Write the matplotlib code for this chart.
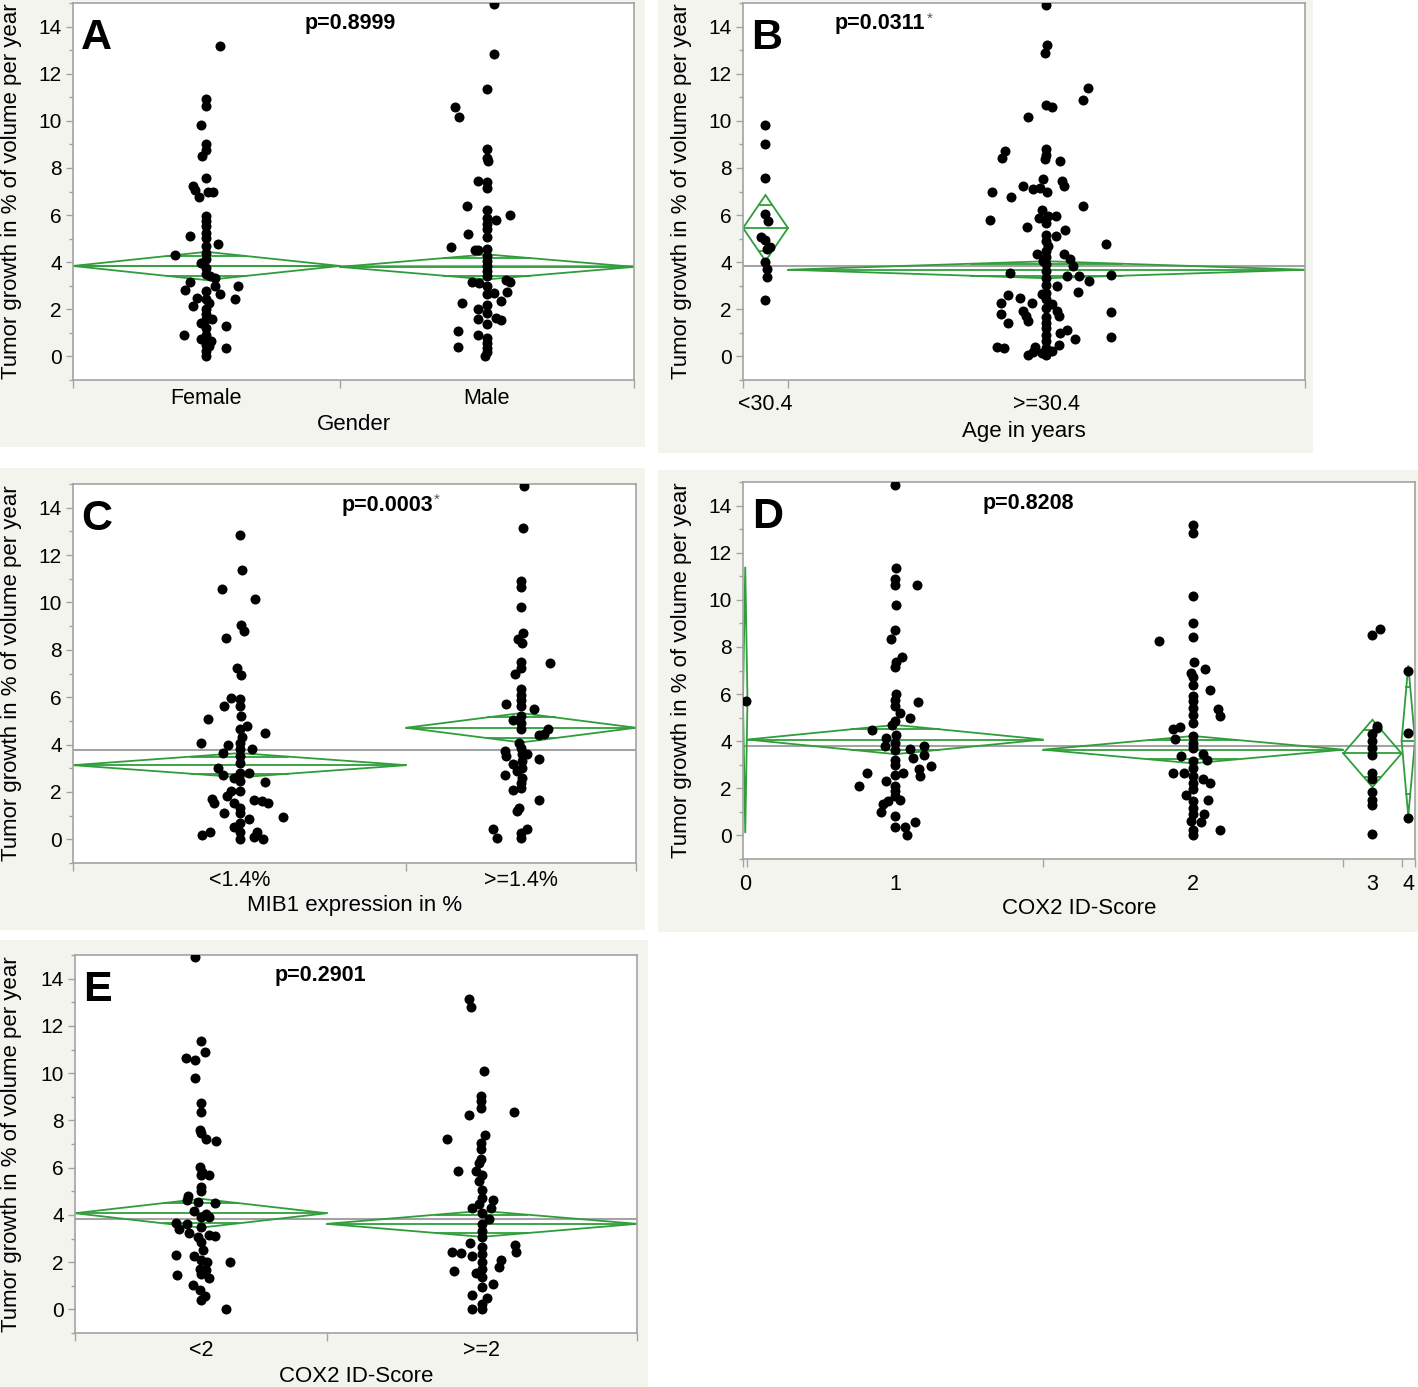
import numpy as np
import matplotlib
matplotlib.use('Agg')
import matplotlib.pyplot as plt
from matplotlib.patches import Rectangle, Polygon

plt.rcParams['font.family'] = ['Liberation Sans', 'DejaVu Sans']

W, H = 1418, 1387
GREEN = '#2f9e3a'
GREY = '#a3a3a3'
BEIGE = '#f4f4ef'
YLABEL = 'Tumor growth in % of volume per year'

# ---------------- data ----------------
# each point: (growth value, horizontal jitter in subject units)

# A: gender
a_groups = ['Female', 'Male']
a_n = [59, 65]
a_mean = [3.84, 3.80]
a_ci = [0.60, 0.53]
a_grand = 3.82
a_female = [(13.18, 3.0), (10.92, 0), (10.64, 0), (9.83, -1.1), (9.02, 0), (8.77, 0), (8.52, -0.9),
            (7.57, 0), (7.22, -3.0), (7.05, -2.6), (6.77, -1.6), (6.96, 0.4), (6.97, 1.5), (5.95, 0),
            (5.73, 0), (5.52, 0), (5.24, 0), (5.10, -3.7), (5.03, 0), (4.79, 2.6), (4.68, 0), (4.40, 0),
            (4.32, -7.0), (4.12, 0), (3.98, -1.2), (3.77, 0), (3.49, 0), (3.42, 0.7), (3.35, 1.8),
            (3.15, -3.7), (2.98, 1.8), (3.00, 7.0), (2.80, -4.8), (2.77, 0), (2.63, 3.0), (2.49, -2.0),
            (2.45, 6.3), (2.42, 0), (2.28, 0.6), (2.13, -3.0), (2.00, 0), (1.80, 0), (1.60, 0), (1.60, 1.3),
            (1.40, -1.2), (1.20, 0), (1.30, 4.4), (0.93, -5.0), (0.93, 0), (0.75, -1.2), (0.64, 1.1),
            (0.50, 0), (0.37, 4.4), (0.44, 0.6), (0.22, -0.2), (0.03, 0)]
a_male = [(14.96, 1.5), (12.84, 1.5), (11.36, 0), (10.58, -7.0), (10.16, -6.1), (8.80, 0), (8.42, 0),
          (8.28, 0.3), (7.43, -2.0), (7.39, 0), (7.14, 0), (6.37, -4.4), (6.20, 0), (6.02, 5.0), (5.88, 0),
          (5.78, 1.9), (5.60, 0), (5.39, 0), (5.20, -4.2), (5.07, 0), (4.65, -8.0), (4.53, -2.7),
          (4.50, -1.9), (4.56, 0), (4.25, 0), (4.04, 0), (3.83, 0), (3.62, 0), (3.40, 0), (3.15, -3.3),
          (3.12, -1.7), (3.26, 4.1), (3.16, 5.2), (2.98, 0), (2.70, 1.5), (2.72, 4.4), (2.63, 0),
          (2.35, 3.0), (2.27, -5.6), (2.20, 0), (2.02, -1.9), (1.85, 0), (1.64, 1.9), (1.60, -1.9),
          (1.54, 3.2), (1.36, 0), (1.08, -6.3), (0.90, -1.9), (0.80, 0), (0.58, 0), (0.41, -6.3),
          (0.37, 0), (0.19, 0), (0.02, -0.4)]

# B: age
b_groups = ['<30.4', '>=30.4']
b_n = [10, 115]
b_mean = [5.45, 3.68]
b_ci = [1.40, 0.36]
b_grand = 3.82
b_young = [(9.83, 0), (9.02, 0), (7.57, 0), (6.06, 0), (5.75, 0.6), (5.09, -0.9), (4.95, 0), (4.66, 1.0),
           (4.57, 0.3), (4.00, 0), (3.72, 0.4), (3.39, 0.3), (2.39, 0)]
b_old = [(14.92, 0), (13.22, 0.2), (12.86, -0.3), (11.39, 9.3), (10.89, 8.2), (10.68, 0), (10.58, 1.2),
         (10.18, -4.2), (8.81, 0), (8.56, 0), (8.39, -0.3), (8.74, -9.2), (8.42, -9.8), (8.30, 3.0),
         (7.46, 3.4), (7.25, 4.0), (7.53, -0.7), (7.25, -5.2), (7.09, -2.9), (7.13, -1.5), (7.00, 0.2),
         (6.96, -12.1), (6.76, -7.9), (6.37, 8.1), (6.20, -1.0), (5.88, -1.6), (5.95, 0.4), (5.95, 2.1),
         (5.80, -12.5), (5.66, 0), (5.48, -4.4), (5.38, 4.2), (5.17, 0), (5.10, 2.1), (4.88, 0),
         (4.79, 13.2), (4.68, 0.4), (4.47, 0), (4.34, -2.2), (4.34, 3.9), (4.20, 0), (4.13, 5.2),
         (4.06, -0.8), (3.92, 0), (3.85, 5.8), (3.62, 0), (3.52, -8.1), (3.43, 4.5), (3.40, 7.2),
         (3.45, 14.4), (3.33, 0), (3.19, 9.5), (3.05, 0), (2.98, 2.4), (2.70, 0), (2.73, 7.1),
         (2.64, -1.1), (2.61, -8.6), (2.49, -6.0), (2.42, 0), (2.28, -3.2), (2.27, -10.1), (2.21, 1.3),
         (2.07, 0), (1.93, -5.3), (1.93, 2.3), (1.80, -10.1), (1.87, 14.4), (1.72, -4.5), (1.67, 0),
         (1.72, 2.8), (1.42, -8.6), (1.50, -4.2), (1.42, 0), (1.21, 0), (1.14, 4.6), (1.00, 3.1),
         (0.75, 6.4), (0.93, 0), (0.83, 14.4), (0.50, 2.8), (0.64, 0), (0.41, -11.0), (0.37, -9.4),
         (0.41, -2.5), (0.37, 0), (0.22, 1.3), (0.19, -3.0), (0.05, -4.2), (0.05, 0), (0.15, -0.9)]

# C: MIB1 expression
c_groups = ['<1.4%', '>=1.4%']
c_n = [74, 51]
c_mean = [3.13, 4.71]
c_ci = [0.51, 0.62]
c_grand = 3.77
c_low = [(12.83, 0), (11.36, 0.6), (10.58, -4.0), (10.15, 3.4), (9.03, 0.2), (8.79, 1.0), (8.51, -3.1),
         (7.24, -0.5), (6.92, 0.4), (5.98, -1.9), (5.91, 0), (5.62, -3.5), (5.62, 0), (5.20, 0.2),
         (5.09, -7.0), (4.78, 1.7), (4.64, 0), (4.50, 5.7), (4.33, 0.6), (4.05, -8.5), (3.98, -2.5),
         (4.07, 0), (3.80, 0), (3.66, -3.8), (3.80, 2.8), (3.52, 0), (3.24, 0), (3.02, -4.9), (2.81, 2.0),
         (2.70, -3.8), (2.81, 0), (2.60, -1.3), (2.46, 0), (2.42, 5.7), (2.04, -2.0), (2.04, 0),
         (1.83, -2.7), (1.69, -6.2), (1.52, -5.7), (1.66, 3.2), (1.62, 5.0), (1.55, 6.4), (1.55, -1.3),
         (1.34, 0), (1.10, -3.5), (1.12, 0), (0.84, 2.0), (0.94, 9.6), (0.53, -1.3), (0.32, 0),
         (0.29, -6.6), (0.20, -8.3), (0.32, 3.9), (0.10, 3.2), (0.00, 5.2), (0.00, 0), (0.67, 0)]
c_high = [(14.91, 0.6), (13.15, 0.4), (10.90, 0), (10.66, 0), (9.82, 0), (8.72, 0.4), (8.44, -0.7),
          (8.30, 0.2), (7.43, 6.3), (7.50, 0), (7.22, 0), (7.00, -1.3), (6.35, 0), (6.11, 0), (5.88, 0),
          (5.70, -3.3), (5.63, 0), (5.49, 2.8), (5.20, 0), (5.04, -1.8), (4.92, 0), (4.64, 0),
          (4.67, 6.0), (4.39, 3.9), (4.43, 5.0), (4.08, -0.5), (3.87, 0), (3.73, -3.5), (3.59, 0.2),
          (3.52, -3.3), (3.59, 1.3), (3.31, 0.2), (3.38, 4.0), (3.17, -1.8), (3.03, 0.2), (2.88, -0.9),
          (2.71, -3.5), (2.60, 0.2), (2.39, 0), (2.08, -1.8), (2.18, 0), (1.66, 4.0), (1.34, -0.4),
          (1.20, -0.9), (0.45, -6.2), (0.07, -5.4), (0.45, 1.3), (0.25, 0), (0.07, 0)]

# D: COX2 ID-score
d_groups = ['0', '1', '2', '3', '4']
d_n = [1, 66, 67, 13, 3]
d_mean = [5.75, 4.07, 3.64, 3.48, 4.02]
d_ci = [5.65, 0.62, 0.58, 1.43, 3.20]
d_grand = 3.81
d_0 = [(5.72, 0.2)]
d_1 = [(14.88, 0), (11.36, 0.2), (10.90, 0), (10.64, 0), (10.64, 4.8), (9.80, 0.2), (8.71, 0),
       (8.33, -0.9), (7.56, 1.6), (7.38, 0.1), (7.14, 0), (6.00, 0.2), (5.75, 0), (5.50, 0),
       (5.68, 5.0), (5.19, 1.0), (4.98, 3.2), (4.84, 0), (4.48, -5.3), (4.70, -0.7), (4.27, 0.2),
       (4.13, -2.0), (3.92, 0), (3.78, -2.2), (3.78, 6.5), (3.64, 0), (3.67, 3.2), (3.43, 6.5),
       (3.29, 4.0), (3.22, 0), (3.01, 0), (2.96, 7.9), (2.82, 5.2), (2.65, 1.7), (2.65, -6.4),
       (2.58, 0), (2.54, 5.4), (2.30, -2.0), (2.10, -8.0), (2.09, 0), (1.88, 0), (1.67, 0),
       (1.46, -1.6), (1.50, 1.0), (1.32, -2.7), (1.00, -3.2), (0.84, 0), (0.56, 4.4), (0.37, 0),
       (0.37, 2.2), (0.01, 2.6)]
d_2 = [(13.19, 0), (12.83, 0), (10.15, 0), (9.00, 0), (8.43, 0), (8.26, -7.6), (7.37, 0.2), (7.05, 2.7),
       (6.91, -0.4), (6.74, 0), (6.39, 0), (6.18, 3.7), (5.93, 0), (5.69, 0), (5.41, 0), (5.37, 5.6),
       (5.09, 6.0), (5.13, 0), (4.78, 0), (4.51, -4.6), (4.62, -2.9), (4.10, -4.1), (4.21, 0),
       (3.93, 0), (3.72, 0), (3.37, -2.7), (3.44, 2.1), (3.20, 3.0), (3.16, 0), (2.88, 0),
       (2.65, -4.6), (2.65, -2.0), (2.51, 0), (2.40, 2.1), (2.23, 3.8), (2.23, 0), (1.95, 0),
       (1.70, -1.6), (1.52, 3.3), (1.46, 0), (1.18, 0), (0.92, 2.4), (0.90, 0), (0.56, 1.8),
       (0.60, -0.4), (0.22, 6.0), (0.25, 0), (0.00, 0)]
d_3 = [(8.50, 0), (8.78, 1.7), (4.65, 1.1), (4.54, 1.0), (4.30, 0), (4.00, 0), (3.70, 0), (3.40, 0),
       (2.67, 0), (2.40, 0), (1.83, 0), (1.50, 0), (1.30, 0), (0.04, 0)]
d_4 = [(6.98, 0), (4.34, 0), (0.72, 0)]

# E: COX2 ID-score dichotomised
e_groups = ['<2', '>=2']
e_n = [56, 69]
e_mean = [4.07, 3.62]
e_ci = [0.61, 0.55]
e_grand = 3.82
e_low = [(14.90, -1.4), (11.35, 0), (10.64, -3.4), (10.57, -1.4), (10.88, 1.0), (9.80, -1.2), (8.73, 0),
         (8.35, 0), (7.58, -0.3), (7.46, 0), (7.22, 1.2), (7.12, 3.4), (6.02, -0.2), (5.81, 0.3),
         (5.67, 1.7), (5.67, 0), (5.17, 0), (5.03, 0), (4.79, -2.9), (4.65, -3.2), (4.50, 3.1),
         (4.54, -0.6), (4.16, -1.6), (4.02, 1.2), (3.91, 0), (3.91, 1.7), (3.65, -5.6), (3.62, -3.0),
         (3.40, -4.8), (3.48, 0), (3.23, -2.6), (3.13, 1.7), (3.12, 3.2), (3.06, -0.6), (2.85, 0),
         (2.52, 0.5), (2.32, -5.5), (2.28, -1.6), (2.07, 0), (2.00, 1.4), (2.00, 6.5), (1.72, -0.2),
         (1.65, 1.2), (1.44, -5.3), (1.51, 0), (1.34, 1.7), (1.02, -1.8), (0.83, -0.2), (0.55, 0.9),
         (0.38, 0), (0.03, 5.6)]
e_high = [(13.14, -2.9), (12.78, -2.4), (10.10, 0.4), (9.02, -0.3), (8.80, -0.3), (8.52, -0.3),
          (8.24, -2.9), (8.35, 7.1), (7.40, 0.6), (7.20, -7.7), (7.05, -0.3), (6.77, -0.3), (6.35, -0.3),
          (6.20, -0.7), (5.85, -5.4), (5.85, -1.2), (5.70, 0), (5.43, -0.7), (5.07, 0), (4.72, 0),
          (4.65, 2.5), (4.44, -0.7), (4.30, -2.1), (4.30, 2.0), (4.10, 0), (3.81, 1.6), (3.60, 0),
          (3.33, 0), (3.05, 0), (2.80, -2.6), (2.65, 0), (2.74, 7.4), (2.42, 7.6), (2.42, -6.7),
          (2.38, -4.7), (2.35, 0), (2.24, -2.1), (2.07, 4.3), (2.00, 0), (1.79, 3.9), (1.72, 0),
          (1.62, -6.1), (1.54, -1.2), (1.37, 0), (1.09, 2.5), (0.95, 0), (0.59, -2.1), (0.49, 1.1),
          (0.24, 0), (0.03, -2.1), (0.03, 0)]

# ---------------- layout in pixels ----------------
# bg = beige panel box (x0, y0, x1, y1); ax = plot frame (left, top, right, bottom)
panels = [
    dict(letter='A', p='p=0.8999', star=False, xlabel='Gender',
         groups=a_groups, n=a_n, mean=a_mean, ci=a_ci, grand=a_grand, pts=[a_female, a_male],
         bg=(0, 0, 645, 447), ax=(73, 3, 634, 380), ptxt=350, ylab=12, tick_dy=18, lab_dy=44),
    dict(letter='B', p='p=0.0311', star=True, xlabel='Age in years',
         groups=b_groups, n=b_n, mean=b_mean, ci=b_ci, grand=b_grand, pts=[b_young, b_old],
         bg=(658, 0, 1313, 453), ax=(743, 3, 1305, 380), ptxt=880, ylab=681, tick_dy=25, lab_dy=51),
    dict(letter='C', p='p=0.0003', star=True, xlabel='MIB1 expression in %',
         groups=c_groups, n=c_n, mean=c_mean, ci=c_ci, grand=c_grand, pts=[c_low, c_high],
         bg=(0, 468, 645, 930), ax=(73, 484, 636, 863), ptxt=387, ylab=12, tick_dy=18, lab_dy=43),
    dict(letter='D', p='p=0.8208', star=False, xlabel='COX2 ID-Score',
         groups=d_groups, n=d_n, mean=d_mean, ci=d_ci, grand=d_grand, pts=[d_0, d_1, d_2, d_3, d_4],
         bg=(658, 470, 1418, 932), ax=(743, 482, 1415, 859), ptxt=1028, ylab=681, tick_dy=25, lab_dy=50),
    dict(letter='E', p='p=0.2901', star=False, xlabel='COX2 ID-Score',
         groups=e_groups, n=e_n, mean=e_mean, ci=e_ci, grand=e_grand, pts=[e_low, e_high],
         bg=(0, 940, 648, 1387), ax=(75, 955, 637, 1333), ptxt=320, ylab=12, tick_dy=18, lab_dy=43),
]

fig = plt.figure(figsize=(W / 100, H / 100), dpi=100, facecolor='white')


def draw_panel(P):
    x0, y0, x1, y1 = P['bg']
    fig.add_artist(Rectangle((x0 / W, 1 - y1 / H), (x1 - x0) / W, (y1 - y0) / H,
                             transform=fig.transFigure, facecolor=BEIGE, edgecolor='none', zorder=-5))
    l, t, r, b = P['ax']
    aw, ah = r - l, b - t
    ax = fig.add_axes([l / W, 1 - b / H, aw / W, ah / H])
    ax.set_facecolor('white')

    n = np.array(P['n'], dtype=float)
    edges = np.concatenate([[0], np.cumsum(n)])
    centers = edges[:-1] + n / 2
    total = edges[-1]

    ax.axhline(P['grand'], color=GREY, lw=1.5, zorder=1)
    for i in range(len(n)):
        L, R, c = edges[i], edges[i + 1], centers[i]
        m, d = P['mean'][i], P['ci'][i]
        ax.add_patch(Polygon([(L, m), (c, m + d), (R, m), (c, m - d)], closed=True,
                             fill=False, edgecolor=GREEN, lw=1.3, zorder=2))
        ax.plot([L, R], [m, m], color=GREEN, lw=1.3, zorder=2)
        hw = (R - L) / 2 * (1 - 1 / np.sqrt(2))
        for s in (1, -1):
            yy = m + s * d / np.sqrt(2)
            ax.plot([c - hw, c + hw], [yy, yy], color=GREEN, lw=1.3, zorder=2)
        vals = np.array([p[0] for p in P['pts'][i]])
        dx = np.array([p[1] for p in P['pts'][i]])
        ax.scatter(c + dx, vals, s=52, color='black', linewidths=0, zorder=3)

    ax.set_xlim(0, total)
    ax.set_ylim(-1, 15)

    for sp in ax.spines.values():
        sp.set_color(GREY)
        sp.set_linewidth(1.2)

    ax.set_yticks(np.arange(0, 15, 2))
    ax.set_yticks(np.arange(-1, 16, 2), minor=True)
    ax.tick_params(axis='y', which='major', length=5, width=1, color=GREY, labelsize=15, pad=3)
    ax.tick_params(axis='y', which='minor', length=3, width=1, color=GREY)

    ax.set_xticks(edges)
    ax.set_xticklabels([])
    ax.set_xticks(centers, minor=True)
    ax.set_xticklabels(P['groups'], minor=True)
    ax.tick_params(axis='x', which='major', length=6, width=1, color=GREY)
    ax.tick_params(axis='x', which='minor', length=0, labelsize=15.5, pad=0)
    for lbl in ax.get_xticklabels(minor=True):
        lbl.set_va('center')
        lbl.set_transform(ax.get_xaxis_transform() +
                          matplotlib.transforms.ScaledTranslation(0, -P['tick_dy'] / 100, fig.dpi_scale_trans))

    ax.set_ylabel(YLABEL, fontsize=16)
    ax.yaxis.label.set_va('center')
    ax.yaxis.set_label_coords((P['ylab'] - l) / aw, 0.5)
    ax.set_xlabel(P['xlabel'], fontsize=16)
    ax.xaxis.label.set_va('center')
    ax.xaxis.set_label_coords(0.5, -P['lab_dy'] / ah)

    ax.text(0.014, 0.96, P['letter'], transform=ax.transAxes, ha='left', va='top',
            fontsize=31, fontweight='bold')
    pt = ax.text((P['ptxt'] - l) / aw, 1 - 21 / ah, P['p'], transform=ax.transAxes,
                 ha='center', va='center', fontsize=15.5, fontweight='bold')
    if P['star']:
        ax.annotate('*', xy=(1, 1), xycoords=pt, xytext=(1, 1), textcoords='offset points',
                    ha='left', va='top', fontsize=11, color='#555555')


for P in panels:
    draw_panel(P)

fig.savefig('out.png', dpi=100, facecolor='white')
